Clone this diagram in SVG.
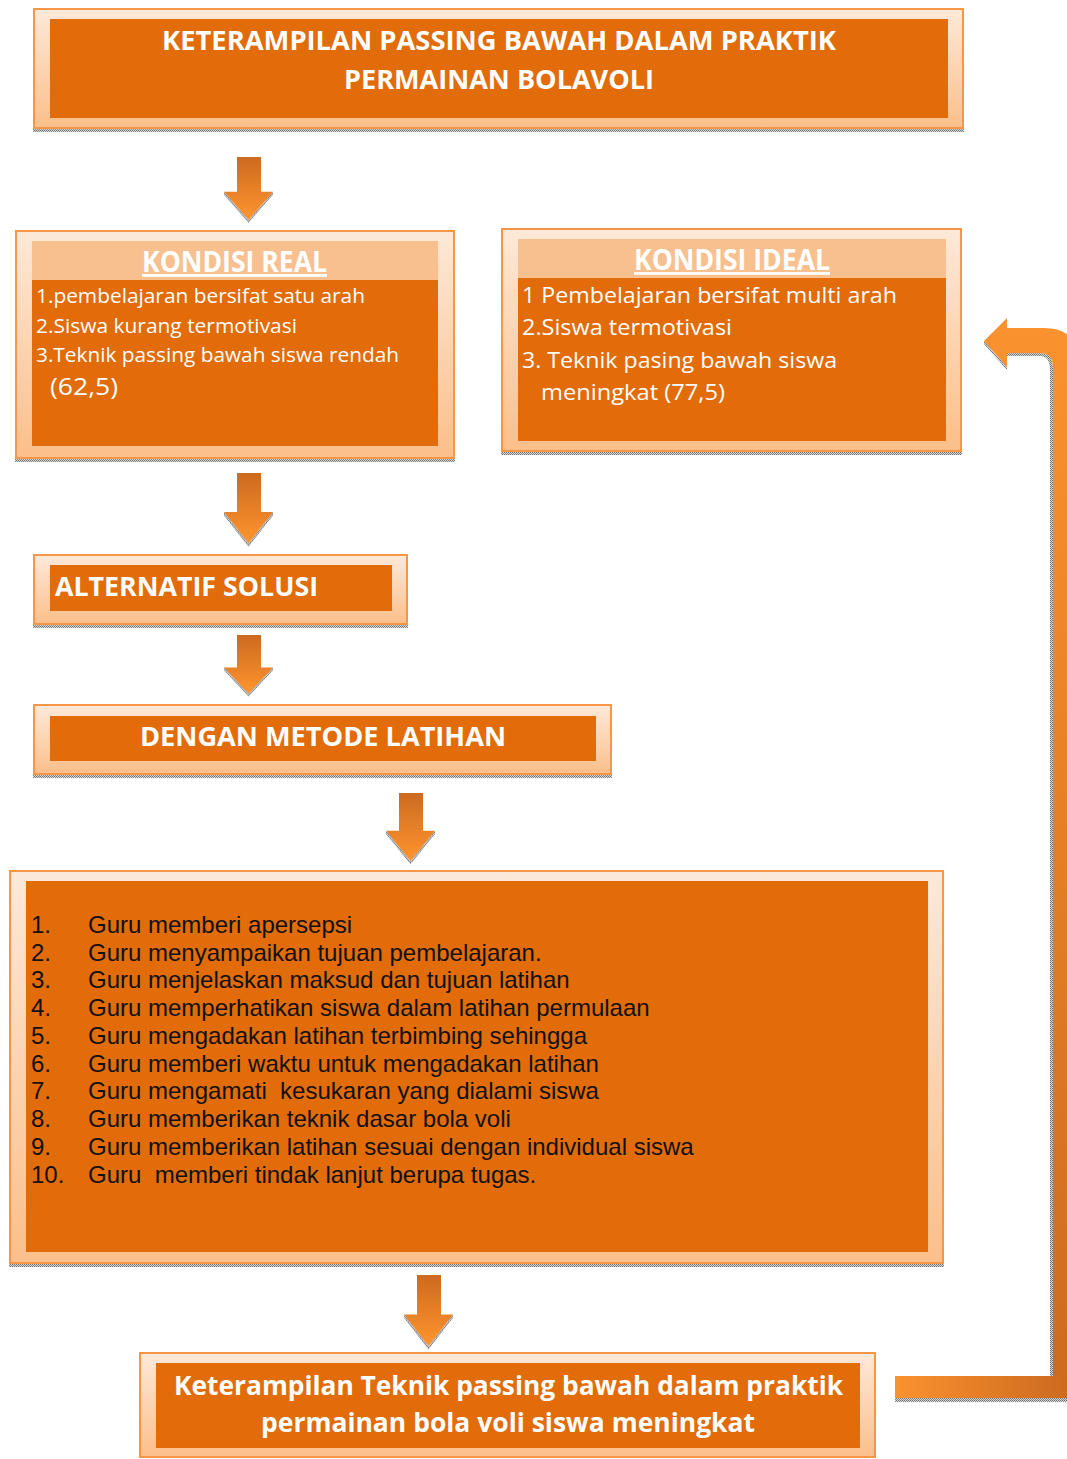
<svg xmlns="http://www.w3.org/2000/svg" width="1067" height="1459" viewBox="0 0 1067 1459">
<defs>
  <linearGradient id="frame" x1="0" y1="0" x2="0" y2="1">
    <stop offset="0" stop-color="#FDE9D9"/>
    <stop offset="1" stop-color="#FBBF8A"/>
  </linearGradient>
  <linearGradient id="arrowG" x1="0" y1="0" x2="0" y2="1">
    <stop offset="0" stop-color="#CC6A1F"/>
    <stop offset="1" stop-color="#FF952F"/>
  </linearGradient>
  <linearGradient id="barH" x1="0" y1="0" x2="1" y2="0">
    <stop offset="0" stop-color="#FA922F"/>
    <stop offset="1" stop-color="#CD6A1F"/>
  </linearGradient>
  <linearGradient id="barV" gradientUnits="userSpaceOnUse" x1="0" y1="320" x2="0" y2="1400">
    <stop offset="0" stop-color="#FA922F"/>
    <stop offset="1" stop-color="#CD6A1F"/>
  </linearGradient>
  <pattern id="dither" width="2" height="2" patternUnits="userSpaceOnUse">
    <rect width="2" height="2" fill="#d4d4d4"/>
    <rect width="1" height="1" fill="#6f6f6f"/>
    <rect x="1" y="1" width="1" height="1" fill="#8a8a8a"/>
  </pattern>
  <path id="arr" d="M13,0 H37 V35 H49 L24.5,63 L0,35 H13 Z"/>
</defs>
<style>
  .outer{fill:url(#frame);stroke:#F79646;stroke-width:2}
  .inner{fill:#E26B0A}
  .band{fill:#F9C08F}
  .shadow{fill:url(#dither)}
  .hd{font-family:"Open Sans","Noto Sans",sans-serif;font-weight:bold;fill:#fff}
  .tx{font-family:"Open Sans","Noto Sans",sans-serif;fill:#fff}
  .ls{font-family:"Liberation Sans",Arial,sans-serif;font-size:24px;fill:#111}
  .arrow{fill:url(#arrowG)}
  .ashadow{fill:url(#dither)}
</style>

<g id="node-title">
  <rect class="shadow" x="33" y="128" width="931" height="4"/>
  <rect class="outer" x="34" y="9" width="929" height="119"/>
  <rect class="inner" x="50" y="19" width="898" height="99"/>
  <text class="hd" x="499" y="50" font-size="27" text-anchor="middle" textLength="674" lengthAdjust="spacingAndGlyphs">KETERAMPILAN PASSING BAWAH DALAM PRAKTIK</text>
  <text class="hd" x="499" y="89" font-size="27" text-anchor="middle" textLength="310" lengthAdjust="spacingAndGlyphs">PERMAINAN BOLAVOLI</text>
</g>

<g id="node-kondisi-real">
  <rect class="shadow" x="15" y="458" width="440" height="4"/>
  <rect class="outer" x="16" y="231" width="438" height="227"/>
  <rect class="inner" x="32" y="241" width="406" height="205"/>
  <rect class="band" x="32" y="241" width="406" height="39"/>
  <text class="hd" x="234.5" y="272" font-size="28" text-anchor="middle" text-decoration="underline" textLength="185" lengthAdjust="spacingAndGlyphs">KONDISI REAL</text>
  <text class="tx" x="36" y="303" font-size="20" textLength="329" lengthAdjust="spacingAndGlyphs">1.pembelajaran bersifat satu arah</text>
  <text class="tx" x="36" y="333" font-size="20" textLength="261" lengthAdjust="spacingAndGlyphs">2.Siswa kurang termotivasi</text>
  <text class="tx" x="36" y="362" font-size="20" textLength="363" lengthAdjust="spacingAndGlyphs">3.Teknik passing bawah siswa rendah</text>
  <text class="tx" x="50" y="395" font-size="23" textLength="68" lengthAdjust="spacingAndGlyphs">(62,5)</text>
</g>

<g id="node-kondisi-ideal">
  <rect class="shadow" x="501" y="451" width="461" height="4"/>
  <rect class="outer" x="502" y="229" width="459" height="222"/>
  <rect class="inner" x="518" y="239" width="428" height="202"/>
  <rect class="band" x="518" y="239" width="428" height="39"/>
  <text class="hd" x="732" y="270" font-size="28" text-anchor="middle" text-decoration="underline" textLength="196" lengthAdjust="spacingAndGlyphs">KONDISI IDEAL</text>
  <text class="tx" x="522" y="303" font-size="21" textLength="375" lengthAdjust="spacingAndGlyphs">1 Pembelajaran bersifat multi arah</text>
  <text class="tx" x="522" y="335" font-size="21" textLength="210" lengthAdjust="spacingAndGlyphs">2.Siswa termotivasi</text>
  <text class="tx" x="522" y="368" font-size="21" textLength="315" lengthAdjust="spacingAndGlyphs">3. Teknik pasing bawah siswa</text>
  <text class="tx" x="541" y="400" font-size="21" textLength="184" lengthAdjust="spacingAndGlyphs">meningkat (77,5)</text>
</g>

<g id="node-alternatif">
  <rect class="shadow" x="33" y="624" width="375" height="4"/>
  <rect class="outer" x="34" y="555" width="373" height="69"/>
  <rect class="inner" x="50" y="565" width="342" height="46"/>
  <text class="hd" x="55" y="596" font-size="27" textLength="263" lengthAdjust="spacingAndGlyphs">ALTERNATIF SOLUSI</text>
</g>

<g id="node-metode">
  <rect class="shadow" x="33" y="774" width="579" height="4"/>
  <rect class="outer" x="34" y="705" width="577" height="69"/>
  <rect class="inner" x="50" y="716" width="546" height="45"/>
  <text class="hd" x="323" y="746" font-size="26" text-anchor="middle" textLength="366" lengthAdjust="spacingAndGlyphs">DENGAN METODE LATIHAN</text>
</g>

<g id="node-langkah">
  <rect class="shadow" x="9" y="1263" width="935" height="4"/>
  <rect class="outer" x="10" y="871" width="933" height="392"/>
  <rect class="inner" x="26" y="881" width="902" height="371"/>
  <g class="ls">
    <text x="31" y="933">1.</text><text x="88" y="933">Guru memberi apersepsi</text>
    <text x="31" y="961">2.</text><text x="88" y="961">Guru menyampaikan tujuan pembelajaran.</text>
    <text x="31" y="988">3.</text><text x="88" y="988">Guru menjelaskan maksud dan tujuan latihan</text>
    <text x="31" y="1016">4.</text><text x="88" y="1016">Guru memperhatikan siswa dalam latihan permulaan</text>
    <text x="31" y="1044">5.</text><text x="88" y="1044">Guru mengadakan latihan terbimbing sehingga</text>
    <text x="31" y="1072">6.</text><text x="88" y="1072">Guru memberi waktu untuk mengadakan latihan</text>
    <text x="31" y="1099">7.</text><text x="88" y="1099" xml:space="preserve">Guru mengamati  kesukaran yang dialami siswa</text>
    <text x="31" y="1127">8.</text><text x="88" y="1127">Guru memberikan teknik dasar bola voli</text>
    <text x="31" y="1155">9.</text><text x="88" y="1155">Guru memberikan latihan sesuai dengan individual siswa</text>
    <text x="31" y="1183">10.</text><text x="88" y="1183" xml:space="preserve">Guru  memberi tindak lanjut berupa tugas.</text>
  </g>
</g>

<g id="node-hasil">
  <rect class="outer" x="140" y="1353" width="735" height="104"/>
  <rect class="inner" x="156" y="1363" width="704" height="85"/>
  <text class="hd" x="508.5" y="1395" font-size="27" text-anchor="middle" textLength="669" lengthAdjust="spacingAndGlyphs">Keterampilan Teknik passing bawah dalam praktik</text>
  <text class="hd" x="508" y="1432" font-size="27" text-anchor="middle" textLength="494" lengthAdjust="spacingAndGlyphs">permainan bola voli siswa meningkat</text>
</g>

<g id="connectors">
  <g transform="translate(224,157) scale(1,0.995)">
    <path class="ashadow" d="M0,35 L24.5,63 L49,35 L49,38 L24.5,66 L0,38 Z"/>
    <use href="#arr" class="arrow"/>
  </g>
  <g transform="translate(224,473) scale(1,1.117)">
    <path class="ashadow" d="M0,35 L24.5,63 L49,35 L49,38 L24.5,66 L0,38 Z"/>
    <use href="#arr" class="arrow"/>
  </g>
  <g transform="translate(224,635) scale(1,0.93)">
    <path class="ashadow" d="M0,35 L24.5,63 L49,35 L49,38 L24.5,66 L0,38 Z"/>
    <use href="#arr" class="arrow"/>
  </g>
  <g transform="translate(386,793) scale(1,1.08)">
    <path class="ashadow" d="M0,35 L24.5,63 L49,35 L49,38 L24.5,66 L0,38 Z"/>
    <use href="#arr" class="arrow"/>
  </g>
  <g transform="translate(404,1275) scale(1,1.127)">
    <path class="ashadow" d="M0,35 L24.5,63 L49,35 L49,38 L24.5,66 L0,38 Z"/>
    <use href="#arr" class="arrow"/>
  </g>
  <rect class="shadow" x="895" y="1398" width="172" height="4"/>
  <path class="shadow" d="M984,341 L1007,367 L1007,370 L984,344 Z"/>
  <path class="shadow" d="M1007,353 H1040 Q1053,353 1053,368 V1376 H1050 V370 Q1050,356 1040,356 H1007 Z"/>
  <path fill="url(#barV)" d="M1053,1398 H1078 V362 Q1078,328 1044,328 H1007 V318 L984,341 L1007,367 V353 H1040 Q1053,353 1053,368 Z"/>
  <rect x="895" y="1376" width="172" height="22" fill="url(#barH)"/>
</g>
</svg>
